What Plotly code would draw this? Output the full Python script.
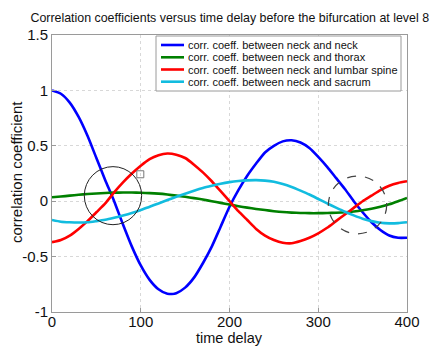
import plotly.graph_objects as go

# ---- data ----
time_delay = list(range(0, 401, 10))

neck_neck = [1.00, 0.97, 0.89, 0.76, 0.59, 0.39, 0.19, 0.00, -0.21, -0.41,
             -0.58, -0.71, -0.795, -0.836, -0.83, -0.78, -0.69, -0.56, -0.41, -0.23,
             -0.05, 0.10, 0.23, 0.34, 0.44, 0.50, 0.54, 0.55, 0.53, 0.48,
             0.40, 0.31, 0.21, 0.11, 0.00, -0.10, -0.19, -0.26, -0.31, -0.33, -0.33]

neck_thorax = [0.035, 0.042, 0.05, 0.058, 0.065, 0.07, 0.074, 0.077, 0.078, 0.078,
               0.076, 0.073, 0.068, 0.06, 0.05, 0.04, 0.028, 0.015, 0.0, -0.015,
               -0.03, -0.045, -0.058, -0.07, -0.08, -0.09, -0.098, -0.103, -0.106, -0.108,
               -0.108, -0.107, -0.104, -0.1, -0.093, -0.082, -0.068, -0.05, -0.028, 0.0, 0.03]

neck_lumbar = [-0.37, -0.35, -0.31, -0.25, -0.18, -0.10, -0.02, 0.08, 0.17, 0.25,
               0.32, 0.38, 0.415, 0.43, 0.42, 0.39, 0.33, 0.26, 0.18, 0.09,
               0.0, -0.09, -0.17, -0.25, -0.31, -0.35, -0.375, -0.38, -0.36, -0.33,
               -0.29, -0.24, -0.18, -0.12, -0.06, 0.0, 0.05, 0.10, 0.14, 0.165, 0.18]

neck_sacrum = [-0.17, -0.185, -0.19, -0.192, -0.19, -0.18, -0.168, -0.15, -0.13, -0.107,
               -0.08, -0.05, -0.02, 0.01, 0.04, 0.068, 0.095, 0.12, 0.14, 0.158,
               0.172, 0.182, 0.188, 0.19, 0.186, 0.175, 0.155, 0.128, 0.095, 0.06,
               0.02, -0.02, -0.058, -0.095, -0.128, -0.158, -0.18, -0.195, -0.2, -0.198, -0.19]

series_names = ["corr. coeff. between neck and neck",
                "corr. coeff. between neck and thorax",
                "corr. coeff. between neck and lumbar spine",
                "corr. coeff. between neck and sacrum"]
series_colors = ["#0000FF", "#008000", "#FF0000", "#12BCDF"]

x_ticks = [0, 100, 200, 300, 400]
x_tick_labels = ["0", "100", "200", "300", "400"]
y_ticks = [-1, -0.5, 0, 0.5, 1, 1.5]
y_tick_labels = ["-1", "-0.5", "0", "0.5", "1", "1.5"]

title_text = "Correlation coefficients versus time delay before the bifurcation at level 8"
x_title = "time delay"
y_title = "correlation coefficient"

# annotation marks (circles and square marker)
solid_circle = dict(x0=36.4, x1=101.0, y0=-0.212, y1=0.312)
dashed_circle = dict(x0=311.4, x1=377.1, y0=-0.294, y1=0.227)
square_marker_x = [99.5]
square_marker_y = [0.243]

FONT = "Liberation Sans, Arial, sans-serif"

fig = go.Figure()
for vals, name, col in zip([neck_neck, neck_thorax, neck_lumbar, neck_sacrum],
                           series_names, series_colors):
    fig.add_trace(go.Scatter(x=time_delay, y=vals, mode="lines", name=name,
                             line=dict(color=col, width=2.6, shape="spline", smoothing=0.6),
                             showlegend=False))

fig.add_trace(go.Scatter(x=square_marker_x, y=square_marker_y, mode="markers",
                         marker=dict(symbol="square-open", size=7, color="#777777",
                                     line=dict(width=1)),
                         showlegend=False, hoverinfo="skip"))

fig.add_shape(type="circle", xref="x", yref="y", line=dict(color="#222222", width=1),
              **solid_circle)
fig.add_shape(type="circle", xref="x", yref="y",
              line=dict(color="#444444", width=1.2, dash="dash"), **dashed_circle)

# pixel helpers for the plot frame
L = 52; R = 407; T = 35; B = 312
W = R - L; H = B - T
def px(xp): return (xp - L) / W
def py(yp): return (B - yp) / H

# manual legend (compact, like the original)
fig.add_shape(type="rect", xref="paper", yref="paper",
              x0=px(156), x1=px(401), y0=py(91), y1=py(36),
              line=dict(color="#9a9a9a", width=1), fillcolor="white", layer="above")
rows = [45, 57.3, 69.5, 81.7]
for yy, name, col in zip(rows, series_names, series_colors):
    fig.add_shape(type="line", xref="paper", yref="paper",
                  x0=px(161), x1=px(184), y0=py(yy), y1=py(yy),
                  line=dict(color=col, width=2.6), layer="above")
    fig.add_annotation(xref="paper", yref="paper", x=px(186), y=py(yy),
                       text=name, showarrow=False, xanchor="left", yanchor="middle",
                       font=dict(family=FONT, size=11, color="#111111"))

# axis titles
fig.add_annotation(xref="paper", yref="paper", x=px(229), y=py(338), text=x_title,
                   showarrow=False, xanchor="center", yanchor="middle",
                   font=dict(family=FONT, size=14.5, color="#111111"))
fig.add_annotation(xref="paper", yref="paper", x=px(16), y=py(172), text=y_title,
                   textangle=-90, showarrow=False, xanchor="center", yanchor="middle",
                   font=dict(family=FONT, size=15, color="#111111"))

axis_common = dict(showline=True, linecolor="#9a9a9a", linewidth=1, mirror=True,
                   showgrid=True, gridcolor="#d8d8d8", griddash="dot", gridwidth=1,
                   zeroline=False, ticks="inside", ticklen=4, tickcolor="#9a9a9a",
                   automargin=False,
                   tickfont=dict(family=FONT, size=15, color="#111111"))

fig.update_layout(
    width=436, height=346,
    margin=dict(l=L, r=436 - R, t=T, b=346 - B, autoexpand=False),
    paper_bgcolor="white", plot_bgcolor="white",
    title=dict(text=title_text,
               x=0.527, xref="container", xanchor="center", y=1 - 18 / 346, yref="container",
               yanchor="middle", font=dict(family=FONT, size=12.4, color="#111111")),
    xaxis=dict(range=[0, 400], tickvals=x_ticks, ticktext=x_tick_labels,
               ticklabelstandoff=-4, **axis_common),
    yaxis=dict(range=[-1, 1.5], tickvals=y_ticks, ticktext=y_tick_labels, **axis_common),
)

fig.write_html("out.html")
